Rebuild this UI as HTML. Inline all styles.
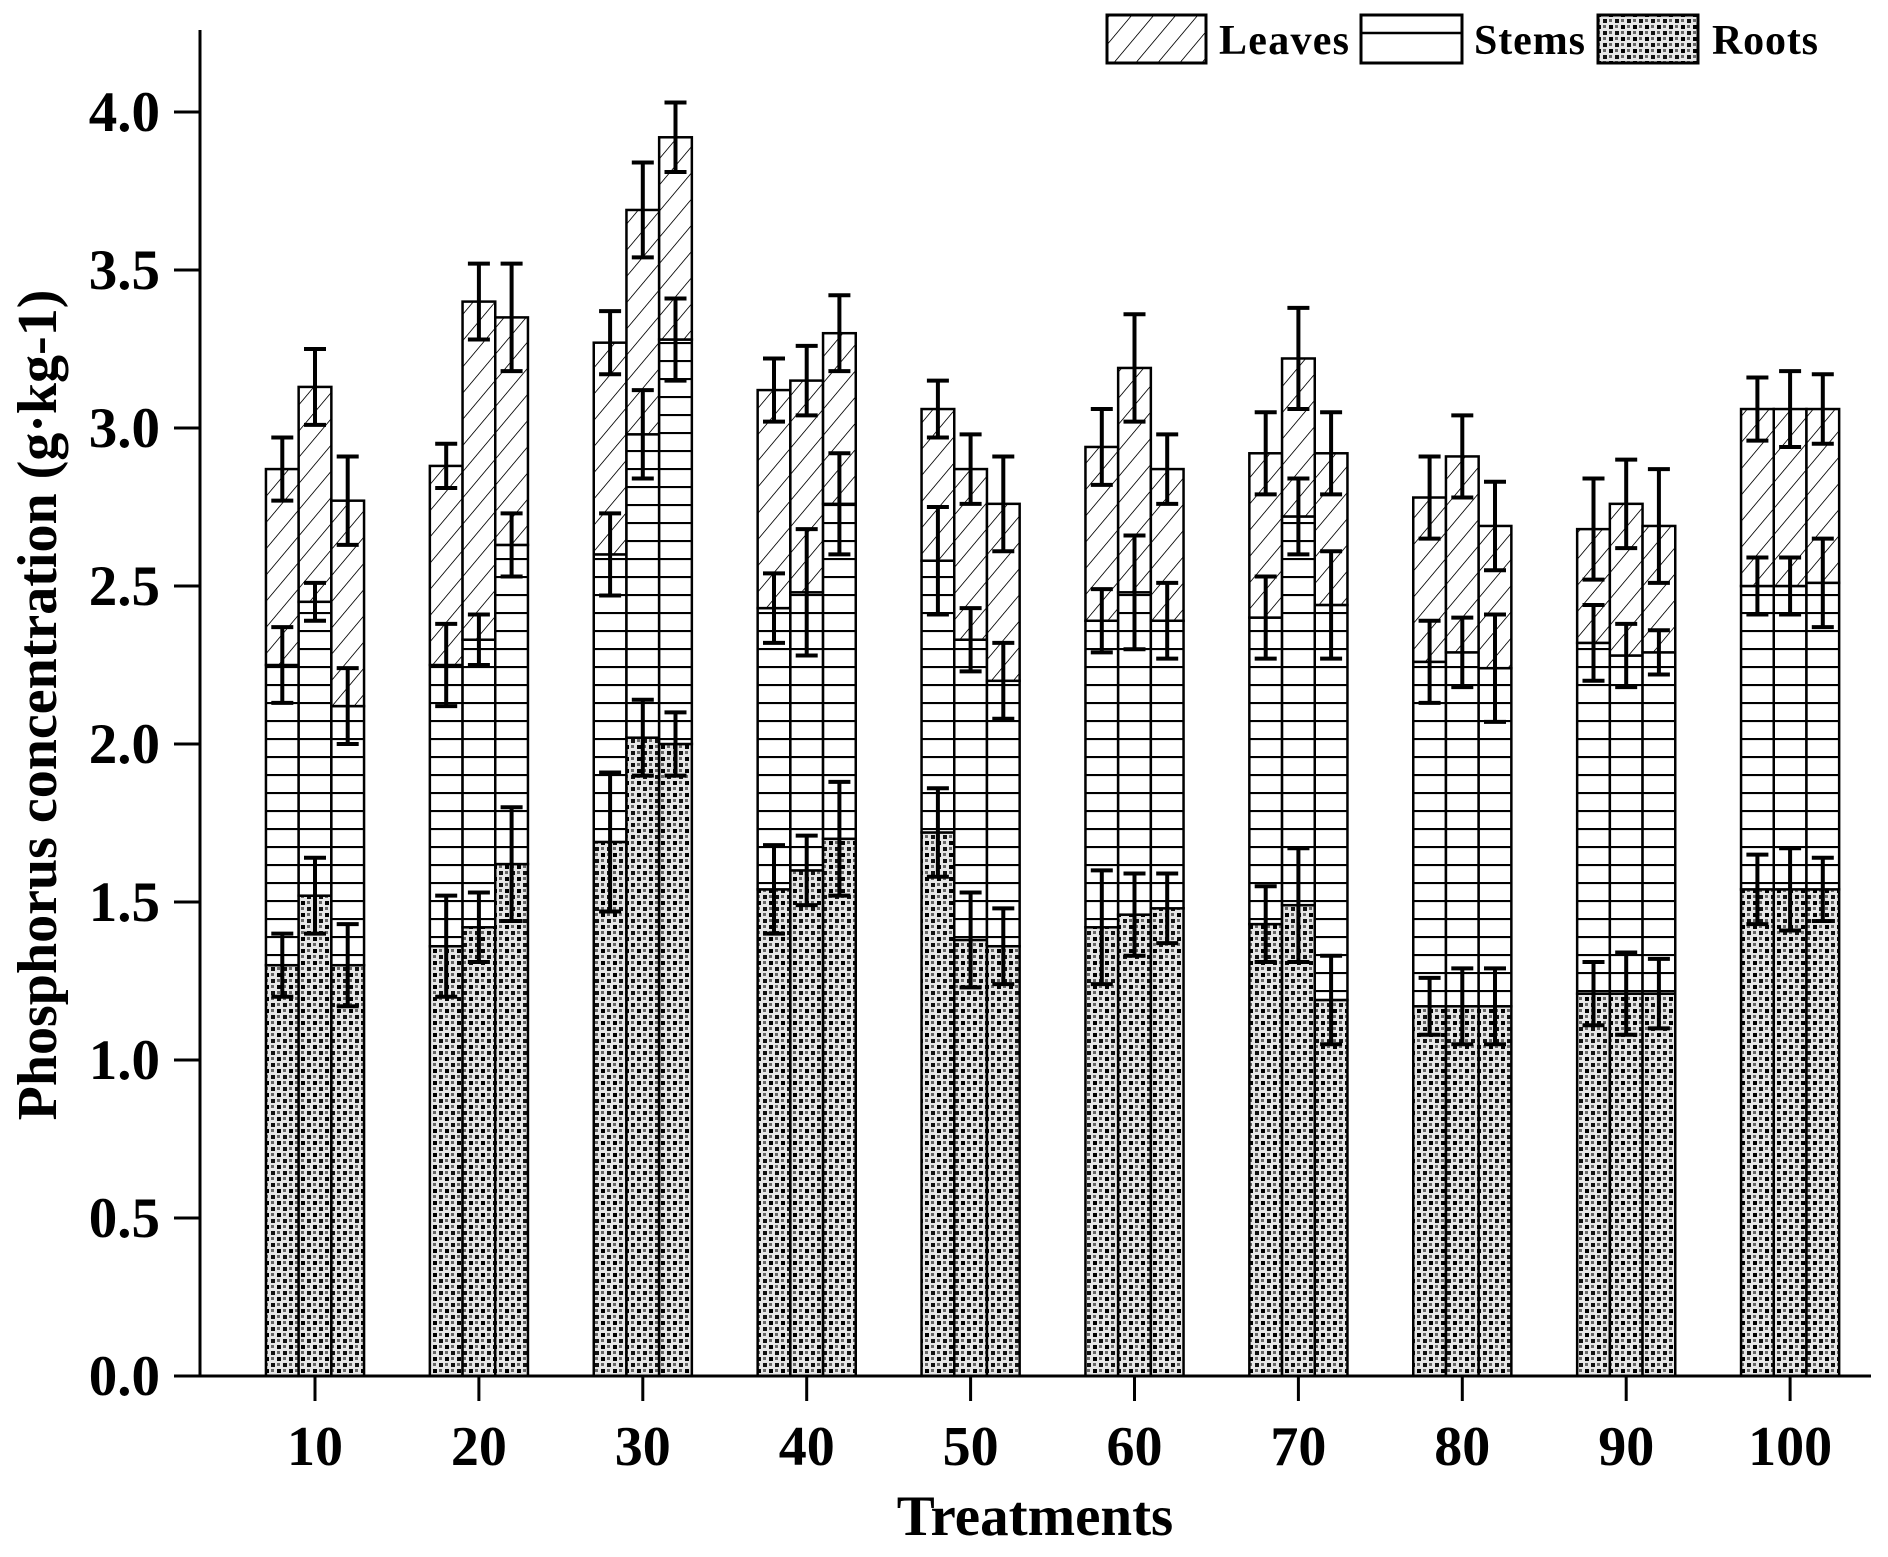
<!DOCTYPE html>
<html><head><meta charset="utf-8"><style>
body{margin:0;background:#fff;}
svg{display:block;font-family:"Liberation Serif",serif;font-weight:bold;}
</style></head><body>
<svg id="chart" width="1888" height="1557" viewBox="0 0 1888 1557" xmlns="http://www.w3.org/2000/svg">
<defs>
<pattern id="pDiag" patternUnits="userSpaceOnUse" width="22" height="22" patternTransform="skewX(-40)">
<rect width="22" height="22" fill="#fff"/><line x1="0" y1="0" x2="0" y2="22" stroke="#000" stroke-width="2.2"/>
</pattern>
<pattern id="pHor" patternUnits="userSpaceOnUse" width="10" height="18">
<rect width="10" height="18" fill="#fff"/><line x1="0" y1="1" x2="10" y2="1" stroke="#000" stroke-width="2.2"/>
</pattern>
<pattern id="pDot" patternUnits="userSpaceOnUse" width="12" height="12">
<rect width="12" height="12" fill="#e6e6e6"/><rect x="1" y="1" width="4" height="4" fill="#000"/><rect x="7" y="7" width="4" height="4" fill="#111"/><rect x="7" y="1" width="3" height="3" fill="#666"/><rect x="1" y="7" width="3" height="3" fill="#666"/>
</pattern>
</defs>
<g id="plot"></g>
<g id="legend">
<rect x="1107" y="15" width="99" height="48" fill="url(#pDiag)" stroke="#000" stroke-width="3"/>
<text x="1219" y="54" font-size="42" textLength="130">Leaves</text>
<rect x="1361" y="15" width="101" height="48" fill="#fff" stroke="#000" stroke-width="3"/>
<line x1="1361" y1="33" x2="1462" y2="33" stroke="#000" stroke-width="2.5"/>
<text x="1474" y="54" font-size="42" textLength="111">Stems</text>
<rect x="1598" y="15" width="100" height="48" fill="url(#pDot)" stroke="#000" stroke-width="3"/>
<text x="1712" y="54" font-size="42" textLength="106">Roots</text>
</g>
<text x="1035" y="1535" font-size="57" text-anchor="middle">Treatments</text>
<text transform="translate(56,705) rotate(-90)" font-size="56" text-anchor="middle">Phosphorus concentration (g·kg-1)</text>
</svg>
<script>
const categories = ["10","20","30","40","50","60","70","80","90","100"];
// cumulative tops per bar (3 bars per treatment)
const rootsTop = [[1.30,1.52,1.30],[1.36,1.42,1.62],[1.69,2.02,2.00],[1.54,1.60,1.70],[1.72,1.38,1.36],[1.42,1.46,1.48],[1.43,1.49,1.19],[1.17,1.17,1.17],[1.21,1.21,1.21],[1.54,1.54,1.54]];
const stemsTop = [[2.25,2.45,2.12],[2.25,2.33,2.63],[2.60,2.98,3.28],[2.43,2.48,2.76],[2.58,2.33,2.20],[2.39,2.48,2.39],[2.40,2.72,2.44],[2.26,2.29,2.24],[2.32,2.28,2.29],[2.50,2.50,2.51]];
const leavesTop = [[2.87,3.13,2.77],[2.88,3.40,3.35],[3.27,3.69,3.92],[3.12,3.15,3.30],[3.06,2.87,2.76],[2.94,3.19,2.87],[2.92,3.22,2.92],[2.78,2.91,2.69],[2.68,2.76,2.69],[3.06,3.06,3.06]];
const rootsErr = [[.10,.12,.13],[.16,.11,.18],[.22,.12,.10],[.14,.11,.18],[.14,.15,.12],[.18,.13,.11],[.12,.18,.14],[.09,.12,.12],[.10,.13,.11],[.11,.13,.10]];
const stemsErr = [[.12,.06,.12],[.13,.08,.10],[.13,.14,.13],[.11,.20,.16],[.17,.10,.12],[.10,.18,.12],[.13,.12,.17],[.13,.11,.17],[.12,.10,.07],[.09,.09,.14]];
const leavesErr = [[.10,.12,.14],[.07,.12,.17],[.10,.15,.11],[.10,.11,.12],[.09,.11,.15],[.12,.17,.11],[.13,.16,.13],[.13,.13,.14],[.16,.14,.18],[.10,.12,.11]];
const yTicks = [0,0.5,1.0,1.5,2.0,2.5,3.0,3.5,4.0];

const NS="http://www.w3.org/2000/svg";
const g=document.getElementById('plot');
const X0=200, X1=1871, Y0=1376, PPU=316, CAT0=315, CATW=163.9, BW=32.7;
const yS=v=>Y0-v*PPU;
const xS=i=>CAT0+i*CATW;
function mk(t,a){const e=document.createElementNS(NS,t);for(const k in a)e.setAttribute(k,a[k]);g.appendChild(e);return e;}

categories.forEach((c,i)=>{
  for(let j=0;j<3;j++){
    const x=xS(i)-1.5*BW+j*BW;
    const segs=[[0,rootsTop[i][j],'url(#pDot)','roots'],[rootsTop[i][j],stemsTop[i][j],'url(#pHor)','stems'],[stemsTop[i][j],leavesTop[i][j],'url(#pDiag)','leaves']];
    segs.forEach(s=>{
      const r=mk('rect',{x:x,y:yS(s[1]),width:BW,height:yS(s[0])-yS(s[1]),fill:s[2],stroke:'#000','stroke-width':2.5});
      
      
    });
    const cx=x+BW/2;
    [[rootsTop,rootsErr],[stemsTop,stemsErr],[leavesTop,leavesErr]].forEach(p=>{
      const v=p[0][i][j], e=p[1][i][j];
      const eb=mk('path',{d:`M${cx} ${yS(v-e)}V${yS(v+e)}M${cx-11} ${yS(v-e)}h22M${cx-11} ${yS(v+e)}h22`,stroke:'#000','stroke-width':4,fill:'none'});
      
      
    });
  }
  const tk=mk('line',{x1:xS(i),x2:xS(i),y1:Y0,y2:Y0+25,stroke:'#000','stroke-width':3});
  
  
  const tl=mk('text',{x:xS(i),y:1465,'font-size':56,'text-anchor':'middle'});
  tl.textContent=c;
  
  
});
yTicks.forEach(v=>{
  const tk=mk('line',{x1:174,x2:X0,y1:yS(v),y2:yS(v),stroke:'#000','stroke-width':3});
  
  
  const tl=mk('text',{x:160,y:yS(v)+19,'font-size':57,'text-anchor':'end'});
  tl.textContent=v.toFixed(1);
  
  
});
const ya=mk('line',{x1:X0,x2:X0,y1:30,y2:Y0,stroke:'#000','stroke-width':3});


const xa=mk('line',{x1:174,x2:X1,y1:Y0,y2:Y0,stroke:'#000','stroke-width':3});


</script>
</body></html>
